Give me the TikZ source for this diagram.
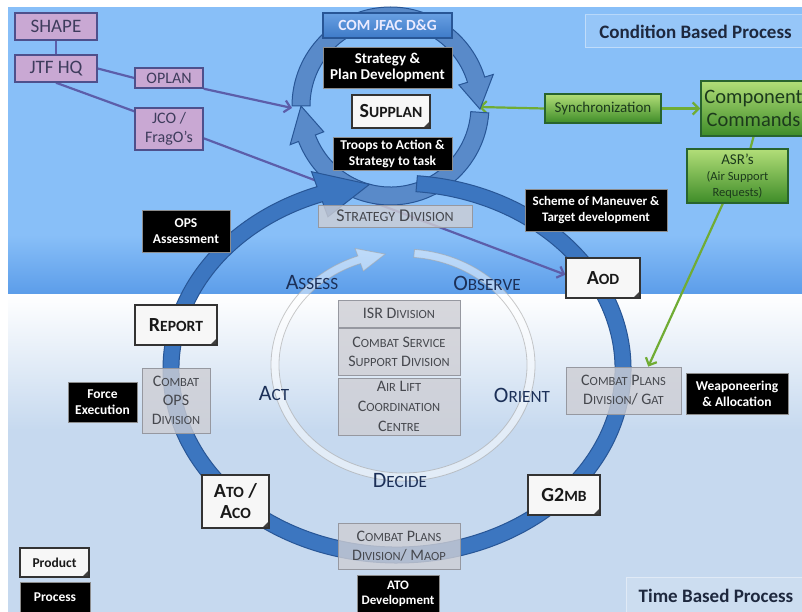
\documentclass[tikz,border=0pt]{standalone}
\usepackage{fontspec}
\setmainfont{Carlito}
\usepackage{graphicx}
\usetikzlibrary{arrows.meta}

\definecolor{bgtop}{RGB}{136,191,248}
\definecolor{bgdeep}{RGB}{92,157,233}
\definecolor{bglow}{RGB}{198,217,239}
\definecolor{hqfill}{RGB}{201,168,211}
\definecolor{hqline}{RGB}{78,80,140}
\definecolor{hqtext}{RGB}{62,60,92}
\definecolor{linkpurple}{RGB}{92,94,170}
\definecolor{linkgreen}{RGB}{112,172,52}
\definecolor{greentop}{RGB}{178,222,120}
\definecolor{greenbot}{RGB}{62,140,40}
\definecolor{greenline}{RGB}{40,100,45}
\definecolor{greentext}{RGB}{28,58,28}
\definecolor{ringfill}{RGB}{60,118,192}
\definecolor{ringline}{RGB}{40,86,150}
\definecolor{jfactop}{RGB}{104,160,226}
\definecolor{jfacbot}{RGB}{62,122,200}
\definecolor{divfill}{RGB}{206,206,212}
\definecolor{divline}{RGB}{150,152,160}
\definecolor{divtext}{RGB}{70,72,78}
\definecolor{phasetext}{RGB}{28,48,88}
\definecolor{tagtext}{RGB}{30,40,62}

\newcommand{\smc}[1]{\scalebox{0.78}{#1}}

\pgfdeclarelayer{bg}
\pgfdeclarelayer{links}
\pgfdeclarelayer{rings}
\pgfsetlayers{bg,links,rings,main}

\begin{document}
\begin{tikzpicture}[x=1pt, y=-1pt,
    hqbox/.style={draw=hqline, line width=1.5pt, fill=hqfill, text=hqtext, inner sep=0pt, align=center},
    greenbox/.style={draw=greenline, line width=1.5pt, top color=greentop, bottom color=greenbot, text=greentext, inner sep=0pt, align=center},
    procbox/.style={draw=black!45, line width=0.8pt, fill=black, text=white, inner sep=0pt, align=center, font=\bfseries\fontsize{13.5}{16}\selectfont},
    prodbox/.style={draw=black!80, line width=1.2pt, fill=black!3, text=black!90, inner sep=0pt, align=center, font=\bfseries\fontsize{20}{20}\selectfont,
      path picture={\fill[black!75] ([xshift=-7pt]path picture bounding box.south east) -- (path picture bounding box.south east) -- ([yshift=7pt]path picture bounding box.south east) -- cycle;}},
    divbox/.style={draw=divline, line width=0.8pt, text=divtext, inner sep=0pt, align=center, font=\fontsize{16}{19}\selectfont,
      path picture={\fill[divfill, fill opacity=0.8] (path picture bounding box.south west) rectangle (path picture bounding box.north east);}},
    tagbox/.style={draw=white, draw opacity=0.4, line width=1pt, text=tagtext, inner sep=0pt, font=\bfseries\fontsize{19}{21}\selectfont,
      path picture={\fill[white, fill opacity=0.12] (path picture bounding box.south west) rectangle (path picture bounding box.north east);}},
    phaseword/.style={text=phasetext, inner sep=0pt, font=\fontsize{22}{24}\selectfont},
    purplelink/.style={draw=linkpurple, line width=2.2pt},
    greenlink/.style={draw=linkgreen, line width=2.2pt},
    linktip/.style={-{Straight Barb[length=6pt,width=12pt]}}
  ]
  \useasboundingbox (0,0) rectangle (802,612);

  % Background bands
  \begin{pgfonlayer}{bg}
    \fill[white] (0,0) rectangle (802,612);
    \fill[bgtop] (8,7) rectangle (802,235);
    \shade[top color=bgtop, bottom color=bgdeep] (8,235) rectangle (802,294);
    \shade[top color=white, bottom color=bglow] (8,294) rectangle (802,430);
    \fill[bglow] (8,430) rectangle (802,612);
  \end{pgfonlayer}

  % Command chain
  \node[hqbox, minimum width=82pt, minimum height=27pt, font=\fontsize{19}{21}\selectfont] (shape) at (56,26.5) {SHAPE};
  \node[hqbox, minimum width=82pt, minimum height=27pt, font=\fontsize{19}{21}\selectfont] (jtf) at (56,68.5) {JTF HQ};
  \node[hqbox, minimum width=68pt, minimum height=20pt, font=\fontsize{16}{18}\selectfont] (oplan) at (169,78) {OPLAN};
  \node[hqbox, minimum width=68pt, minimum height=42pt, font=\fontsize{16}{19}\selectfont] (jco) at (169,129) {JCO /\\FragO's};

  % Planning cycle (top)
  \node[draw=ringline, line width=1.5pt, top color=jfactop, bottom color=jfacbot, text=white!92!blue, inner sep=0pt,
        minimum width=129pt, minimum height=25pt, font=\bfseries\fontsize{15.5}{17}\selectfont] (comjfac) at (387.5,25.5) {COM JFAC D\&G};
  \node[procbox, minimum width=129pt, minimum height=41pt, font=\bfseries\fontsize{15}{16.5}\selectfont] (stratplan) at (387.5,67.5) {Strategy \&\\Plan Development};
  \node[prodbox, minimum width=78pt, minimum height=33pt] (supplan) at (391,111.5) {S\smc{UPPLAN}};
  \node[procbox, minimum width=119pt, minimum height=33pt] (troops) at (392.5,153.5) {Troops to Action \&\\Strategy to task};

  % Right hand side
  \node[tagbox, minimum width=221pt, minimum height=33pt] (condition) at (695.5,31.5) {Condition Based Process};
  \node[greenbox, minimum width=116pt, minimum height=29pt, font=\fontsize{15}{17}\selectfont] (sync) at (603,108.5) {Synchronization};
  \node[greenbox, minimum width=105pt, minimum height=55pt, font=\fontsize{20.5}{23}\selectfont] (comp) at (753.5,108.5) {Component\\Commands};
  \node[greenbox, minimum width=101pt, minimum height=54pt, font=\fontsize{15}{16}\selectfont] (asr) at (737.5,176)
    {ASR's\\{\fontsize{12.5}{14}\selectfont(Air Support}\\{\fontsize{12.5}{14}\selectfont Requests)}};
  \node[procbox, minimum width=142pt, minimum height=42pt, font=\bfseries\fontsize{13}{16}\selectfont] (scheme) at (596,210) {Scheme of Maneuver \&\\Target development};

  % Main cycle
  \node[procbox, minimum width=88pt, minimum height=42pt] (opsassess) at (186,231) {OPS\\Assessment};
  \node[divbox, minimum width=154pt, minimum height=22pt, font=\fontsize{18}{20}\selectfont] (stratdiv) at (395,216) {S\smc{TRATEGY} D\smc{IVISION}};
  \node[prodbox, minimum width=74pt, minimum height=40pt] (aod) at (603,278) {A\smc{OD}};
  \node[prodbox, minimum width=82pt, minimum height=40pt] (report) at (176,325) {R\smc{EPORT}};
  \node[divbox, minimum width=68pt, minimum height=65pt] (combatops) at (176,400.5) {C\smc{OMBAT}\\OPS\\D\smc{IVISION}};
  \node[procbox, minimum width=69pt, minimum height=40pt] (force) at (102.5,402) {Force\\Execution};
  \node[divbox, minimum width=115pt, minimum height=47pt] (gat) at (623.5,390.5) {C\smc{OMBAT} P\smc{LANS}\\D\smc{IVISION}/ G\smc{AT}};
  \node[procbox, minimum width=102pt, minimum height=41pt] (weapon) at (737,393.5) {Weaponeering\\\& Allocation};
  \node[prodbox, minimum width=67pt, minimum height=53pt, font=\bfseries\fontsize{20}{21}\selectfont] (atoaco) at (235.5,501.5) {A\smc{TO} /\\A\smc{CO}};
  \node[prodbox, minimum width=72pt, minimum height=40pt] (g2mb) at (564,495) {G2\smc{MB}};
  \node[divbox, minimum width=122pt, minimum height=46pt] (maop) at (399,546) {C\smc{OMBAT} P\smc{LANS}\\D\smc{IVISION}/ M\smc{AOP}};
  \node[procbox, minimum width=82pt, minimum height=37pt, font=\bfseries\fontsize{13}{15}\selectfont] (atodev) at (398,593.5) {ATO\\Development};

  % Divisions in the centre
  \node[divbox, minimum width=122pt, minimum height=27pt] (isr) at (399,313.5) {ISR D\smc{IVISION}};
  \node[divbox, minimum width=122pt, minimum height=47pt] (css) at (399,351.5) {C\smc{OMBAT} S\smc{ERVICE}\\S\smc{UPPORT} D\smc{IVISION}};
  \node[divbox, minimum width=122pt, minimum height=57pt, font=\fontsize{16}{20}\selectfont] (airlift) at (399,406.5) {A\smc{IR} L\smc{IFT}\\C\smc{OORDINATION}\\C\smc{ENTRE}};

  % OODA words
  \node[phaseword] (assess) at (312,283) {A\smc{SSESS}};
  \node[phaseword] (observe) at (487,283) {O\smc{BSERVE}};
  \node[phaseword] (act) at (274,393) {A\smc{CT}};
  \node[phaseword] (orient) at (522,395) {O\smc{RIENT}};
  \node[phaseword] (decide) at (400,480) {D\smc{ECIDE}};

  % Legend
  \node[prodbox, minimum width=69pt, minimum height=29pt, font=\bfseries\fontsize{13.5}{15}\selectfont] (product) at (54.5,562.5) {Product};
  \node[procbox, minimum width=70pt, minimum height=30pt] (process) at (55,597) {Process};
  \node[tagbox, minimum width=180pt, minimum height=37pt] (timebased) at (716,595.5) {Time Based Process};

  % Cycle rings
  \begin{pgfonlayer}{rings}
    \begin{scope}[shift={(390.5,106)}]
      \filldraw[ringfill!85!white, draw=ringline, line width=1pt]
        (4:98.5 and 99) arc[start angle=4, end angle=159, x radius=98.5, y radius=99]
        -- (159:107.5 and 108) -- (180:89.5 and 90) -- (159:71.5 and 72) -- (159:80.5 and 81)
        arc[start angle=159, end angle=4, x radius=80.5, y radius=81] -- cycle;
      \filldraw[ringfill!85!white, draw=ringline, line width=1pt]
        (180:98.5 and 99) arc[start angle=180, end angle=343, x radius=98.5, y radius=99]
        -- (343:107.5 and 108) -- (362:89.5 and 90) -- (343:71.5 and 72) -- (343:80.5 and 81)
        arc[start angle=343, end angle=180, x radius=80.5, y radius=81] -- cycle;
    \end{scope}
    \begin{scope}[shift={(397,369)}]
      \filldraw[ringfill, draw=ringline, line width=1pt]
        (-85:234 and 194) arc[start angle=-85, end angle=250, x radius=234, y radius=194]
        -- (250:250 and 210) -- (263:226 and 186) -- (250:202 and 162) -- (250:218 and 178)
        arc[start angle=250, end angle=-85, x radius=218, y radius=178] -- cycle;
    \end{scope}
    \begin{scope}[shift={(403,365)}]
      \filldraw[white, fill opacity=0.5, draw=black!35, draw opacity=0.6, line width=0.8pt]
        (-85:132 and 116) arc[start angle=-85, end angle=250, x radius=132, y radius=116]
        -- (250:140 and 124) -- (262:128 and 112) -- (250:116 and 100) -- (250:124 and 108)
        arc[start angle=250, end angle=-85, x radius=124, y radius=108] -- cycle;
    \end{scope}
  \end{pgfonlayer}

  % Links
  \coordinate (oplantip) at (292,108);
  \coordinate (synctip) at (479,107);
  \begin{pgfonlayer}{links}
    \draw[purplelink] (shape.south) -- (jtf.north);
    \draw[purplelink] (jtf.east) -- (oplan.west);
    \draw[purplelink, linktip] (oplan.south east) -- (oplantip);
    \draw[purplelink] (jtf.south) -- (jco.153);
    \draw[purplelink, linktip] (jco.-15) -- (aod.175);
    \draw[greenlink, linktip] (sync.west) -- (synctip);
    \draw[greenlink, linktip] (sync.east) -- (comp.west);
    \draw[greenlink] (comp.south) -- (asr.65);
    \draw[greenlink, linktip] (asr.-118) -- (gat.44);
  \end{pgfonlayer}
\end{tikzpicture}
\end{document}
